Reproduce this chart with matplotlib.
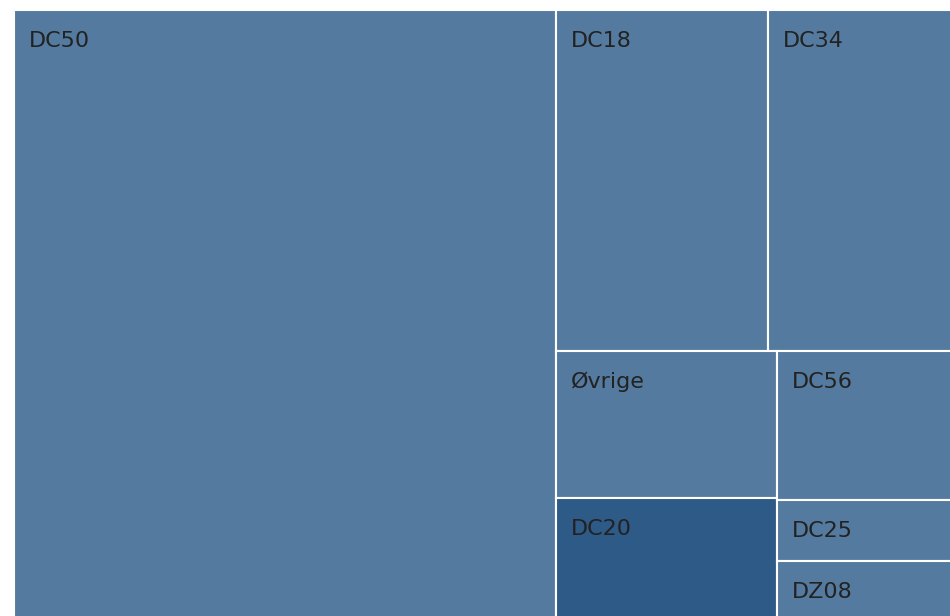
import matplotlib
matplotlib.use("Agg")
import matplotlib.pyplot as plt
from matplotlib.patches import Rectangle

labels = ["DC50", "DC18", "DC34", "Øvrige", "DC20", "DC56", "DC25", "DZ08"]
values = [55.8, 12.25, 10.65, 5.5, 4.5, 4.4, 1.8, 1.7]
highlight = "DC20"

base_color = "#547b9f"
dark_color = "#2e5a87"
text_color = "#222222"

# plotting area runs a little past the right/bottom edge of the image
W, H = 938, 608
PHI = (1 + 5 ** 0.5) / 2


def squarify(vals, x0, y0, x1, y1, ratio=PHI):
    # d3-style squarified layout (same as plotly's default treemap tiling)
    rects = []
    n = len(vals)
    i0 = i1 = 0
    value = sum(vals)
    while i0 < n:
        dx, dy = x1 - x0, y1 - y0
        s = vals[i1]
        i1 += 1
        vmin = vmax = s
        alpha = max(dy / dx, dx / dy) / (value * ratio)
        beta = s * s * alpha
        min_ratio = max(vmax / beta, beta / vmin)
        while i1 < n:
            v = vals[i1]
            s += v
            vmin, vmax = min(vmin, v), max(vmax, v)
            beta = s * s * alpha
            new_ratio = max(vmax / beta, beta / vmin)
            if new_ratio > min_ratio:
                s -= v
                break
            min_ratio = new_ratio
            i1 += 1
        row = vals[i0:i1]
        if dx < dy:
            ny = y0 + dy * s / value
            x = x0
            for v in row:
                w = dx * v / s
                rects.append((x, y0, w, ny - y0))
                x += w
            y0 = ny
        else:
            nx = x0 + dx * s / value
            y = y0
            for v in row:
                h = dy * v / s
                rects.append((x0, y, nx - x0, h))
                y += h
            x0 = nx
        value -= s
        i0 = i1
    return rects


fig = plt.figure(figsize=(9.5, 6.16), dpi=100)
ax = fig.add_axes([14 / 950, (616 - 10 - H) / 616, W / 950, H / 616])
ax.set_xlim(0, W)
ax.set_ylim(H, 0)
ax.axis("off")

for lab, (x, y, w, h) in zip(labels, squarify(values, 0, 0, W, H)):
    color = dark_color if lab == highlight else base_color
    ax.add_patch(Rectangle((x, y), w, h, facecolor=color,
                           edgecolor="white", linewidth=1.5, clip_on=False))
    ax.annotate(lab, xy=(x, y), xytext=(15, -37), textcoords="offset pixels",
                ha="left", va="baseline", fontsize=16, color=text_color,
                family="DejaVu Sans")

fig.savefig("out.png", dpi=100)
